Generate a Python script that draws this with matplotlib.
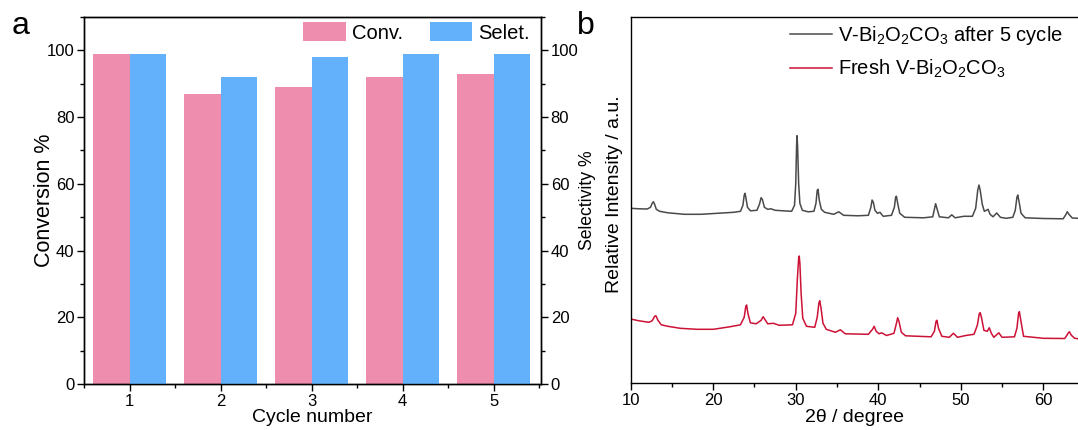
import numpy as np
from matplotlib import pyplot as plt
from matplotlib.ticker import MultipleLocator

plt.rcParams['font.family'] = ['Liberation Sans', 'DejaVu Sans']
plt.rcParams['mathtext.fontset'] = 'custom'
plt.rcParams['mathtext.rm'] = 'Liberation Sans'
plt.rcParams['axes.linewidth'] = 1.0

# (a) recycling test
cycles = [1, 2, 3, 4, 5]
conversion = [99, 87, 89, 92, 93]
selectivity = [99, 92, 98, 99, 99]

# (b) XRD patterns (a.u., offset for clarity)
xrd_used = [
    (10.0, 175.0), (11.0, 174.5), (12.0, 174.3), (12.4, 176), (12.6, 180), (12.75, 181.6),
    (12.9, 179), (13.1, 174), (13.5, 172), (14.5, 170.5), (16.5, 169), (18.5, 169),
    (20.5, 170), (22.5, 171), (23.3, 172), (23.6, 178), (23.75, 188), (23.85, 190),
    (23.95, 186), (24.15, 176), (24.5, 172.5), (25.3, 173), (25.6, 179), (25.8, 185.6),
    (25.95, 184), (26.2, 176), (26.6, 174), (27.0, 174.5), (27.5, 173), (28.5, 172.5),
    (29.5, 172), (29.85, 178), (30.0, 200), (30.1, 238), (30.15, 247.6), (30.22, 238),
    (30.35, 200), (30.5, 180), (30.8, 173), (31.5, 171.5), (32.2, 172), (32.45, 180),
    (32.6, 193), (32.7, 194), (32.85, 183), (33.1, 174), (33.5, 171), (34.6, 169),
    (35.2, 171.5), (35.8, 168), (37.5, 167.5), (38.8, 168), (39.1, 176), (39.25, 183.3),
    (39.4, 181), (39.6, 173), (39.9, 170), (40.2, 171), (40.6, 167), (41.6, 168),
    (41.95, 176), (42.1, 186), (42.2, 187), (42.35, 180), (42.6, 170), (43.2, 166),
    (45.5, 165.5), (46.6, 166.5), (46.85, 176), (46.95, 179.6), (47.1, 175), (47.4, 166.5),
    (48.5, 165.5), (48.9, 168.5), (49.3, 165.5), (50.35, 167), (51.4, 167), (51.8, 175),
    (52.05, 193), (52.2, 198.3), (52.35, 193), (52.6, 179), (52.85, 172), (53.1, 173),
    (53.3, 174), (53.55, 169), (53.9, 166.5), (54.35, 170.3), (54.8, 166), (55.5, 165),
    (56.3, 166), (56.6, 173), (56.8, 186), (56.9, 188.3), (57.05, 182), (57.3, 170),
    (57.8, 165.5), (60.0, 164.8), (62.4, 164.5), (62.75, 169), (62.9, 171.6), (63.1, 169),
    (63.5, 165.3), (64.2, 165.0),
]
xrd_fresh = [
    (10.0, 64.3), (11.0, 62.5), (12.2, 61), (12.6, 62.5), (12.9, 67), (13.05, 67.6),
    (13.3, 63), (13.7, 58.5), (14.5, 57), (16.0, 55), (18.0, 54), (20.0, 54),
    (22.0, 56.5), (23.3, 58.5), (23.75, 66), (23.95, 77), (24.05, 78.3), (24.2, 70),
    (24.5, 60.5), (25.2, 59.5), (25.8, 63), (26.05, 66.6), (26.25, 64), (26.6, 59.5),
    (27.3, 60), (28.0, 58), (29.6, 58.5), (30.0, 70), (30.2, 105), (30.35, 125),
    (30.42, 127.3), (30.5, 120), (30.65, 90), (30.85, 65), (31.3, 57), (32.3, 56),
    (32.6, 66), (32.8, 80), (32.9, 82.6), (33.05, 76), (33.3, 60), (33.7, 54),
    (34.8, 51), (35.4, 53.5), (36.0, 49.5), (38.8, 49), (39.3, 54), (39.5, 57),
    (39.75, 52), (40.1, 49.5), (40.4, 50.5), (41.0, 47.8), (41.9, 50), (42.2, 60),
    (42.35, 65.6), (42.5, 62), (42.8, 51), (43.3, 47.5), (46.4, 46.5), (46.8, 52),
    (47.0, 62), (47.1, 63), (47.3, 55), (47.7, 47), (48.6, 46), (49.1, 50),
    (49.6, 46), (50.6, 47.8), (51.6, 49), (52.0, 58), (52.25, 70), (52.35, 70.6),
    (52.5, 66), (52.8, 53), (53.2, 52), (53.45, 55.5), (53.7, 50), (54.0, 46),
    (54.6, 50.5), (55.0, 46), (56.5, 46.5), (56.8, 55), (57.0, 70), (57.1, 71.6),
    (57.25, 64), (57.6, 47), (60.0, 45), (62.6, 44.8), (63.0, 50), (63.15, 51.6),
    (63.4, 48), (63.8, 45), (64.2, 44.6),
]
tt_used, int_used = np.array(xrd_used).T
tt_fresh, int_fresh = np.array(xrd_fresh).T

pink = '#EF8DAF'
blue = '#62B1FA'

fig = plt.figure(figsize=(10.78, 4.30), dpi=100)
W, H = 1078, 430


def style_ticks(ax):
    ax.tick_params(which='both', direction='out', labelsize=12, pad=2)
    ax.tick_params(which='major', length=5, width=1)
    ax.tick_params(which='minor', length=3, width=1)


# ---- panel a ----
ax1 = fig.add_axes([84 / W, 46 / H, (541 - 84) / W, (384 - 17) / H])
ax2 = ax1.twinx()
x = np.array(cycles)
b1 = ax1.bar(x - 0.2, conversion, 0.4, color=pink, label='Conv.')
b2 = ax2.bar(x + 0.2, selectivity, 0.4, color=blue, label='Selet.')
for ax in (ax1, ax2):
    ax.set_ylim(0, 110)
    ax.set_xlim(0.5, 5.52)
    ax.yaxis.set_major_locator(MultipleLocator(20))
    ax.yaxis.set_minor_locator(MultipleLocator(10))
    style_ticks(ax)
ax1.set_xticks(cycles)
ax1.xaxis.set_minor_locator(MultipleLocator(0.5))
ax1.set_ylabel('Conversion %', fontsize=15.5)
ax1.yaxis.set_label_coords(-0.064, 0.5)
ax2.set_ylabel('Selectivity %', fontsize=12.7)
ax2.yaxis.set_label_coords(1.083, 0.5)
ax1.set_xlabel('Cycle number', fontsize=14)
ax1.xaxis.set_label_coords(0.5, -0.068)
ax2.legend([b1, b2], ['Conv.', 'Selet.'], ncol=2, loc='upper right', frameon=False,
           fontsize=14.5, handlelength=2.1, handleheight=1.1, handletextpad=0.3,
           columnspacing=1.35, borderaxespad=0.05, borderpad=0.2,
           bbox_to_anchor=(0.987, 1.0))

# ---- panel b ----
ax3 = fig.add_axes([630.7 / W, 46.7 / H, (W - 630.7) / W, 366.6 / H])
ax3.plot(tt_used, int_used, color='#4a4a4a', lw=1.1,
         label=r'V-Bi$_\mathregular{2}$O$_\mathregular{2}$CO$_\mathregular{3}$ after 5 cycle')
ax3.plot(tt_fresh, int_fresh, color='#CC1236', lw=1.1,
         label=r'Fresh V-Bi$_\mathregular{2}$O$_\mathregular{2}$CO$_\mathregular{3}$')
ax3.set_xlim(10, 64.2)
ax3.set_ylim(0, 366.6)
ax3.set_yticks([])
ax3.spines['right'].set_visible(False)
ax3.xaxis.set_major_locator(MultipleLocator(10))
ax3.xaxis.set_minor_locator(MultipleLocator(5))
style_ticks(ax3)
ax3.set_xlabel('2θ / degree', fontsize=14)
ax3.xaxis.set_label_coords(0.5, -0.07)
ax3.set_ylabel('Relative Intensity / a.u.', fontsize=14)
ax3.yaxis.set_label_coords(-0.018, 0.515)
ax3.legend(loc='upper right', frameon=False, fontsize=14.5, handlelength=2.1,
           handletextpad=0.3, labelspacing=0.55, borderaxespad=0.0, borderpad=0.35,
           bbox_to_anchor=(0.982, 1.0))

fig.text(12 / W, 1 - 34 / H, 'a', fontsize=23, va='baseline')
fig.text(577 / W, 1 - 34 / H, 'b', fontsize=23, va='baseline')

fig.savefig('out.png', dpi=100)
